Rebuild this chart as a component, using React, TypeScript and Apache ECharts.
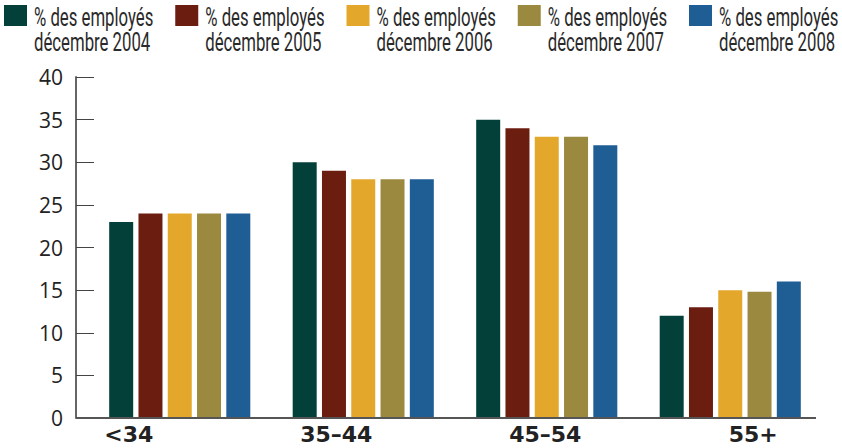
import React, { useEffect, useRef } from "react";
import * as echarts from "echarts";

const categories = ["<34", "35–44", "45–54", "55+"];
const years = ["2004", "2005", "2006", "2007", "2008"];
const legendPrefix = "% des employés";
const legendMonth = "décembre";
const colors = ["#03403a", "#6b1d10", "#e3a82b", "#9c8940", "#1f5d95"];
const v2004 = [23, 30, 35, 12];
const v2005 = [24, 29, 34, 13];
const v2006 = [24, 28, 33, 15];
const v2007 = [24, 28, 33, 14.8];
const v2008 = [24, 28, 32, 16];
const seriesValues = [v2004, v2005, v2006, v2007, v2008];
const yTicks = { min: 0, max: 40, interval: 5 };

// label placement tweaks (layout only)
const labelPadding = [
  [0, 102, 0, 0],
  [0, 54, 0, 0],
  [0, 3, 0, 0],
  [0, 0, 0, 46],
];

const legendFont = "Roboto, 'Noto Sans', sans-serif";
const axisFont = "'Open Sans', 'Noto Sans', sans-serif";
const catFont = "'DejaVu Sans', 'Open Sans', sans-serif";

export default function App() {
  const ref = useRef<HTMLDivElement>(null);
  useEffect(() => {
    if (!ref.current) return;
    const chart = echarts.init(ref.current, null, { renderer: "svg" });
    const graphics: any[] = [];
    years.forEach((y, i) => {
      const x0 = 4 + i * 171.25;
      graphics.push({
        type: "rect",
        shape: { x: x0, y: 5, width: 23, height: 21 },
        style: { fill: colors[i] },
      });
      graphics.push({
        type: "text",
        x: x0 + 30,
        y: 5,
        scaleX: 0.67,
        style: {
          text: legendPrefix + "\n" + legendMonth + " " + y,
          font: `25px ${legendFont}`,
          lineHeight: 25,
          fill: "#2a2a2a",
          verticalAlign: "top",
          align: "left",
        },
      });
    });
    graphics.push({
      type: "line",
      shape: { x1: 76, y1: 418, x2: 816, y2: 418 },
      style: { stroke: "#555", lineWidth: 2 },
      z: 10,
    });
    const rich: any = {};
    labelPadding.forEach((p, i) => {
      rich["c" + i] = {
        padding: p,
        fontSize: 22,
        fontWeight: "bold",
        fontFamily: catFont,
        color: "#222",
      };
    });
    chart.setOption({
      animation: false,
      backgroundColor: "#ffffff",
      grid: { left: 88, right: 20, top: 77, bottom: 30 },
      xAxis: {
        type: "category",
        data: categories,
        axisLine: { show: false },
        axisTick: { show: false },
        axisLabel: {
          margin: 5,
          formatter: (v: string, idx: number) => `{c${idx}|${v}}`,
          rich,
        },
      },
      yAxis: {
        type: "value",
        min: yTicks.min,
        max: yTicks.max,
        interval: yTicks.interval,
        offset: 12,
        splitLine: { show: false },
        axisLine: { show: true, lineStyle: { color: "#666", width: 2 } },
        axisTick: { show: true, inside: true, length: 18, lineStyle: { color: "#444", width: 1 } },
        axisLabel: { margin: 13, color: "#222", fontSize: 21, fontFamily: axisFont },
      },
      graphic: graphics,
      series: seriesValues.map((vals, i) => ({
        type: "bar",
        name: legendPrefix + " " + legendMonth + " " + years[i],
        data: vals,
        barWidth: 24,
        barGap: "22%",
        itemStyle: { color: colors[i] },
      })),
    });
    return () => chart.dispose();
  }, []);
  return <div ref={ref} style={{ width: 842, height: 448, position: "absolute", left: 0, top: 0 }} />;
}
